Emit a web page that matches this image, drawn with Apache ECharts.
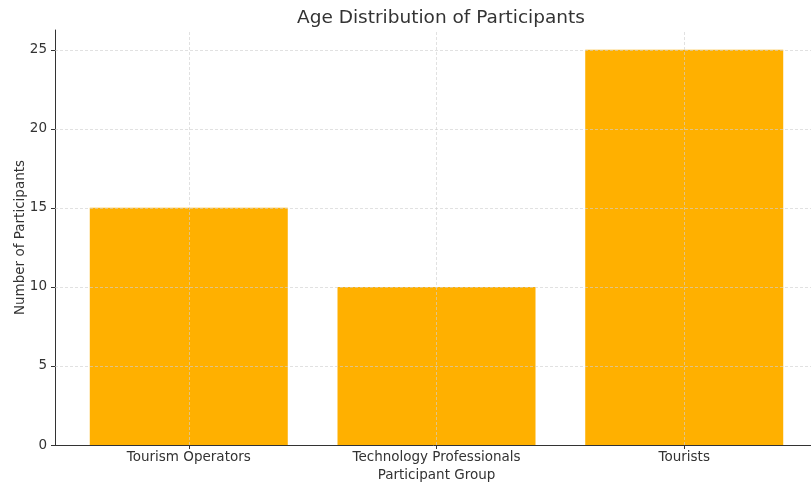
<!DOCTYPE html>
<html>
<head>
<meta charset="utf-8">
<script src="https://cdn.jsdelivr.net/npm/echarts@6/dist/echarts.min.js"></script>
<style>
  html, body { margin: 0; padding: 0; background: #fff; }
  #main { width: 811px; height: 482px; }
</style>
</head>
<body>
<div id="main"></div>
<script>
// data
var groups = ["Tourism Operators", "Technology Professionals", "Tourists"];
var counts = [15, 10, 25];
var yTicks = [0, 5, 10, 15, 20, 25];

var chart = echarts.init(document.getElementById("main"));
var font = "DejaVu Sans";
var idx = groups.map(function (g, i) { return i; });

// dashed grid drawn over the bars, like the original
var gridLines = [];
idx.forEach(function (i) {
    gridLines.push({ xAxis: i });
});
yTicks.forEach(function (v) {
    if (v > 0) gridLines.push({ yAxis: v });
});

var option = {
    animation: false,
    title: {
        text: "Age Distribution of Participants",
        left: 436, top: 4, textAlign: "center",
        textStyle: { fontFamily: font, fontSize: 18.5, fontWeight: "normal", color: "#333" }
    },
    grid: { left: 55, right: -7, top: 30, bottom: 37, outerBoundsMode: "none", containLabel: false },
    xAxis: {
        type: "value",
        min: -0.54, max: 2.54,
        name: "Participant Group",
        nameLocation: "middle",
        nameGap: 23,
        nameMoveOverlap: false,
        nameTextStyle: { fontFamily: font, fontSize: 13.5, color: "#333" },
        axisLine: { onZero: false, lineStyle: { color: "#333", width: 1 } },
        axisTick: { show: true, customValues: idx, length: 4, lineStyle: { color: "#333" } },
        axisLabel: {
            customValues: idx,
            fontFamily: font, fontSize: 13.5, color: "#333", margin: 5,
            formatter: function (v) { return groups[Math.round(v)]; }
        },
        splitLine: { show: false }
    },
    yAxis: {
        type: "value",
        min: 0, max: 26.25,
        name: "Number of Participants",
        nameLocation: "middle",
        nameGap: 28,
        nameMoveOverlap: false,
        nameTextStyle: { fontFamily: font, fontSize: 13.5, color: "#333" },
        axisLine: { show: true, onZero: false, lineStyle: { color: "#333", width: 1 } },
        axisTick: { show: true, customValues: yTicks, length: 4, lineStyle: { color: "#333" } },
        axisLabel: {
            customValues: yTicks,
            fontFamily: font, fontSize: 13.5, color: "#333", margin: 8
        },
        splitLine: { show: false }
    },
    series: [{
        type: "bar",
        data: idx.map(function (i) { return [i, counts[i]]; }),
        barWidth: 198,
        itemStyle: { color: "#FFB000" },
        z: 1,
        markLine: {
            silent: true,
            symbol: "none",
            label: { show: false },
            z: 3,
            lineStyle: { color: "#cfcfcf", type: [3, 2], width: 0.8, opacity: 0.8 },
            data: gridLines
        }
    }]
};

chart.setOption(option);
</script>
</body>
</html>
